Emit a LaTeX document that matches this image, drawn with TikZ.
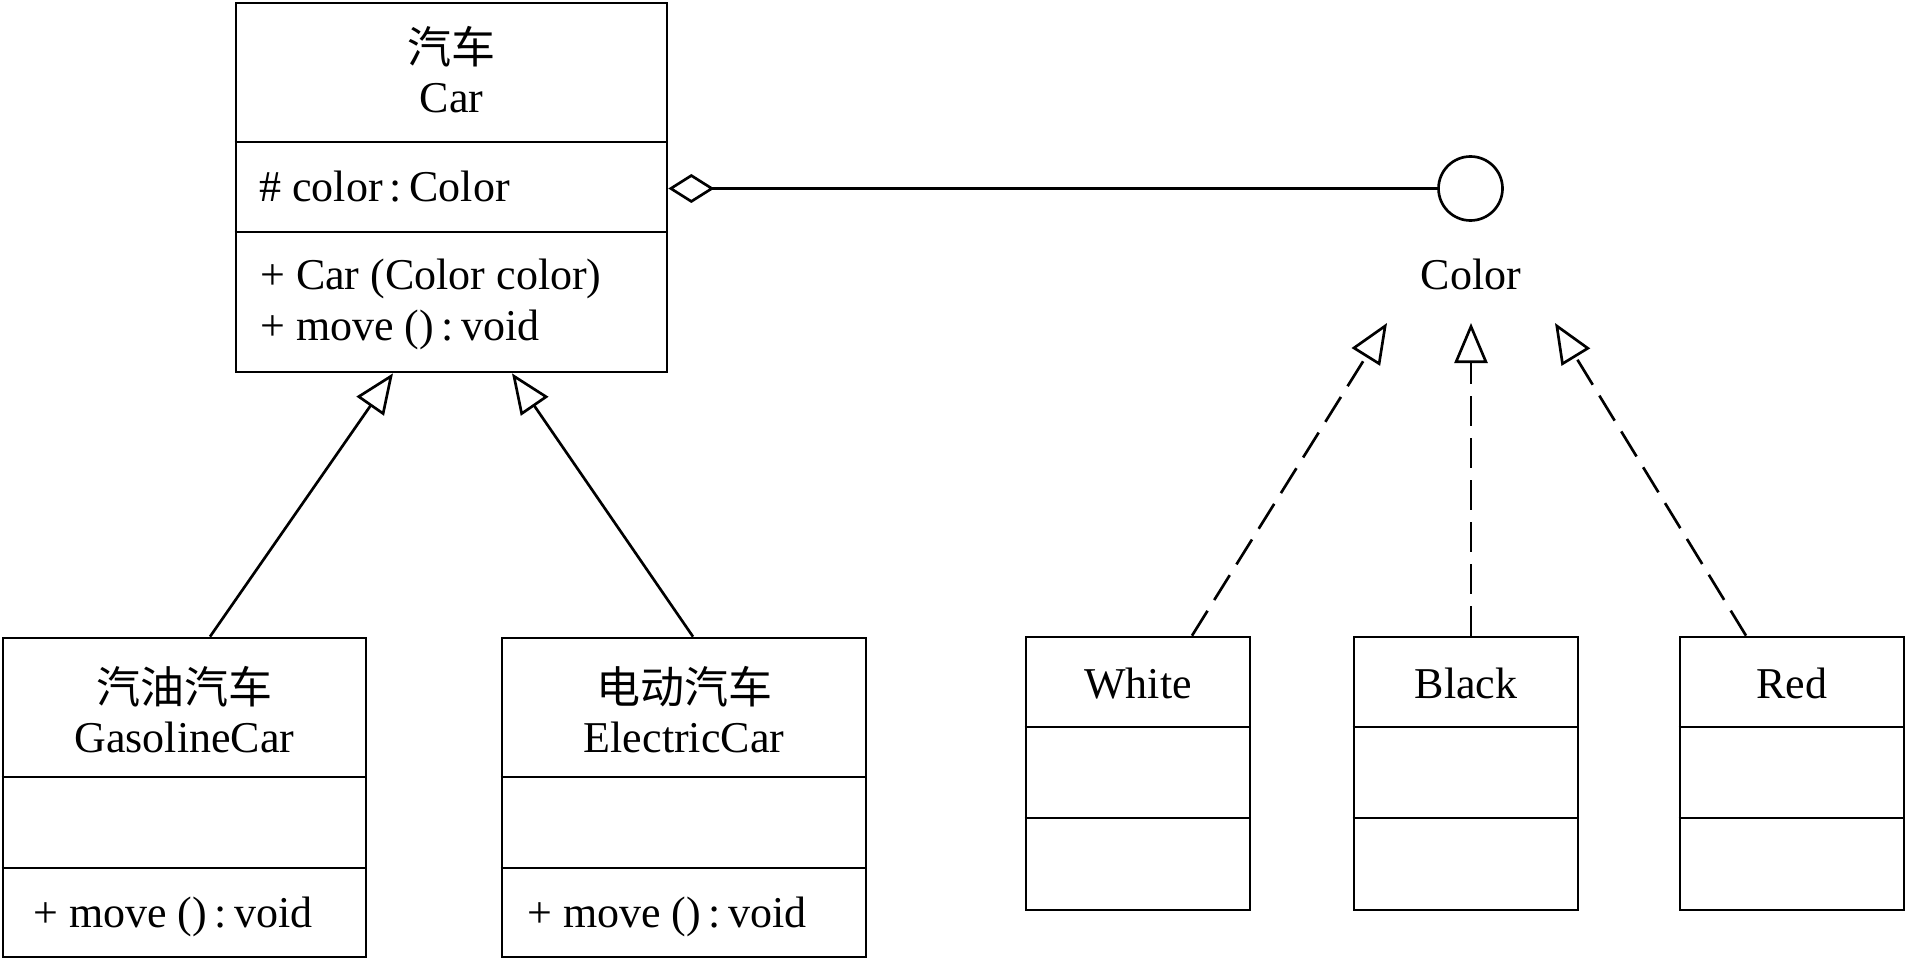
\documentclass[tikz,border=0pt]{standalone}
\usepackage{fontspec}
\setmainfont{Liberation Serif}
\newfontfamily\cjk{Noto Sans CJK SC}
\usepackage{tikz}
\usetikzlibrary{arrows.meta}

\begin{document}
\begin{tikzpicture}[x=0.75pt,y=0.75pt,yscale=-1,xscale=1,
  classbox/.style={draw, rectangle, line width=2pt, inner sep=0pt},
  umltext/.style={inner sep=0pt, font=\fontsize{33}{40}\selectfont},
  umlline/.style={line width=2pt},
  genarrow/.style={umlline, -{Triangle[open,length=30pt,width=24.75pt]}},
  realarrow/.style={genarrow, dash pattern=on 22pt off 9.5pt},
  aggarrow/.style={umlline, {Diamond[open,length=34.5pt,width=21.75pt]}-}]
%set diagram left start at 0, and has height of 959
\useasboundingbox (0,0) rectangle (1906,959);

%Shape: Rectangle [class Car]
\node[classbox, minimum width=323.25pt, minimum height=276.75pt] (car) at (451.5,187.5) {};
\draw[umlline] (car.west |- 0,142) -- (car.east |- 0,142) ;
\draw[umlline] (car.west |- 0,232) -- (car.east |- 0,232) ;
%Shape: Rectangle [class GasolineCar]
\node[classbox, minimum width=272.25pt, minimum height=239.25pt] (gascar) at (184.5,797.5) {};
\draw[umlline] (gascar.west |- 0,777) -- (gascar.east |- 0,777) ;
\draw[umlline] (gascar.west |- 0,868) -- (gascar.east |- 0,868) ;
%Shape: Rectangle [class ElectricCar]
\node[classbox, minimum width=273pt, minimum height=239.25pt] (elcar) at (684,797.5) {};
\draw[umlline] (elcar.west |- 0,777) -- (elcar.east |- 0,777) ;
\draw[umlline] (elcar.west |- 0,868) -- (elcar.east |- 0,868) ;
%Shape: Rectangle [class White]
\node[classbox, minimum width=168pt, minimum height=204.75pt] (white) at (1138,773.5) {};
\draw[umlline] (white.west |- 0,727) -- (white.east |- 0,727) ;
\draw[umlline] (white.west |- 0,818) -- (white.east |- 0,818) ;
%Shape: Rectangle [class Black]
\node[classbox, minimum width=168pt, minimum height=204.75pt] (black) at (1466,773.5) {};
\draw[umlline] (black.west |- 0,727) -- (black.east |- 0,727) ;
\draw[umlline] (black.west |- 0,818) -- (black.east |- 0,818) ;
%Shape: Rectangle [class Red]
\node[classbox, minimum width=168pt, minimum height=204.75pt] (red) at (1792,773.5) {};
\draw[umlline] (red.west |- 0,727) -- (red.east |- 0,727) ;
\draw[umlline] (red.west |- 0,818) -- (red.east |- 0,818) ;
%Shape: Circle [interface Color]
\node[draw, circle, line width=2pt, minimum size=48pt, inner sep=0pt] (colorif) at (1470.5,188.5) {};

%Straight Lines [aggregation]
\draw[aggarrow] (car.east |- 0,188.5) -- (colorif.west) ;
%Straight Lines [generalization]
\draw[genarrow] (gascar.north -| 210,0) -- (car.south -| 393,0) ;
\draw[genarrow] (elcar.north -| 693,0) -- (car.south -| 512,0) ;
%Straight Lines [realization]
\coordinate (tipw) at (1387,323) ;
\coordinate (tipb) at (1471,323) ;
\coordinate (tipr) at (1555,323) ;
\draw[realarrow] (white.north -| 1192,0) -- (tipw) ;
\draw[realarrow] (black.north -| 1471,0) -- (tipb) ;
\draw[realarrow] (red.north -| 1746,0) -- (tipr) ;

% Text Node
\node[umltext, anchor=base] (carcn) at (451.5,64) {\cjk 汽车};
% Text Node
\node[umltext, anchor=base] (caren) at (451.5,113) {Car};
% Text Node
\node[umltext, anchor=base west] (carattr) at (259,202) {\# color\,:\,Color};
% Text Node
\node[umltext, anchor=base west] (carctor) at (260,290) {+ Car (Color color)};
% Text Node
\node[umltext, anchor=base west] (carmove) at (260,340) {+ move ()\,:\,void};
% Text Node
\node[umltext, anchor=base] (colorlbl) at (1471,290) {Color};
% Text Node
\node[umltext, anchor=base] (gascn) at (184.5,703) {\cjk 汽油汽车};
% Text Node
\node[umltext, anchor=base] (gasen) at (184.5,752) {GasolineCar};
% Text Node
\node[umltext, anchor=base west] (gasmove) at (33,927) {+ move ()\,:\,void};
% Text Node
\node[umltext, anchor=base] (elcn) at (684,703) {\cjk 电动汽车};
% Text Node
\node[umltext, anchor=base] (elen) at (684,752) {ElectricCar};
% Text Node
\node[umltext, anchor=base west] (elmove) at (527,927) {+ move ()\,:\,void};
% Text Node
\node[umltext, anchor=base] (whitelbl) at (1138,698) {White};
% Text Node
\node[umltext, anchor=base] (blacklbl) at (1466,698) {Black};
% Text Node
\node[umltext, anchor=base] (redlbl) at (1792,698) {Red};
\end{tikzpicture}
\end{document}
